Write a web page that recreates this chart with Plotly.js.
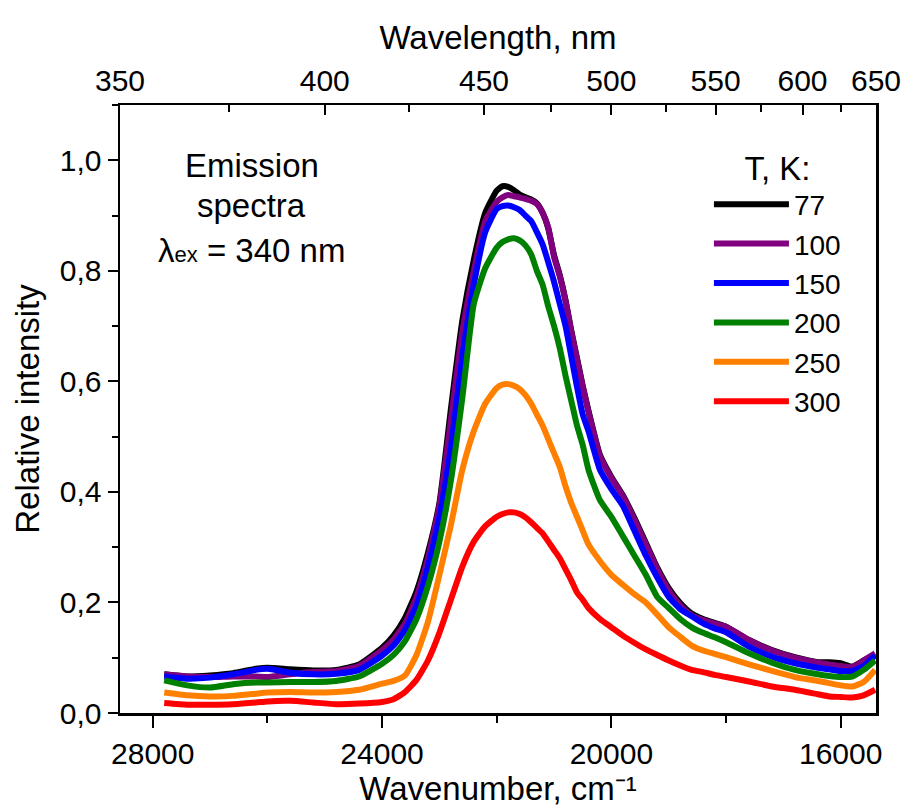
<!DOCTYPE html>
<html>
<head>
<meta charset="utf-8">
<script src="https://cdn.plot.ly/plotly-3.0.1.min.js"></script>
<style>
  html, body { margin: 0; padding: 0; background: #fff; }
  #chart { width: 904px; height: 807px; }
</style>
</head>
<body>
<div id="chart"></div>
<script>
// Wavenumber grid, cm^-1
const wavenumber = [27800, 27400, 27000, 26600, 26200, 26000, 25600, 25200, 24800, 24400,
  24000, 23800, 23600, 23400, 23200, 23000, 22800, 22600, 22400, 22200,
  22000, 21900, 21800, 21700, 21600, 21500, 21400, 21300, 21200, 21100,
  21000, 20900, 20800, 20700, 20600, 20500, 20400, 20200, 20000, 19800,
  19600, 19400, 19200, 19000, 18800, 18600, 18400, 18200, 18000, 17600,
  17200, 16800, 16400, 16200, 16000, 15800, 15600, 15400];

const temps = ["77", "100", "150", "200", "250", "300"];
const colors = ["#000000", "#800080", "#0000FF", "#008000", "#FF8000", "#FF0000"];

const I77 = [0.070, 0.066, 0.068, 0.072, 0.080, 0.082, 0.079, 0.077, 0.078, 0.088,
  0.118, 0.140, 0.172, 0.220, 0.290, 0.380, 0.550, 0.710, 0.820, 0.905,
  0.945, 0.953, 0.952, 0.946, 0.938, 0.933, 0.929, 0.922, 0.905, 0.876,
  0.828, 0.792, 0.747, 0.692, 0.642, 0.592, 0.547, 0.467, 0.427, 0.394,
  0.353, 0.308, 0.263, 0.226, 0.199, 0.180, 0.170, 0.163, 0.156, 0.132,
  0.114, 0.101, 0.092, 0.092, 0.090, 0.084, 0.095, 0.106];

const I100 = [0.070, 0.066, 0.065, 0.066, 0.066, 0.065, 0.070, 0.074, 0.076, 0.085,
  0.114, 0.133, 0.162, 0.210, 0.280, 0.375, 0.530, 0.690, 0.800, 0.890,
  0.925, 0.933, 0.937, 0.935, 0.933, 0.930, 0.927, 0.921, 0.905, 0.878,
  0.825, 0.790, 0.745, 0.690, 0.640, 0.590, 0.545, 0.465, 0.425, 0.392,
  0.350, 0.305, 0.260, 0.222, 0.195, 0.177, 0.168, 0.162, 0.156, 0.132,
  0.113, 0.100, 0.091, 0.088, 0.085, 0.083, 0.095, 0.108];

const I150 = [0.066, 0.062, 0.064, 0.070, 0.078, 0.080, 0.073, 0.070, 0.071, 0.078,
  0.104, 0.122, 0.150, 0.195, 0.265, 0.355, 0.480, 0.645, 0.775, 0.870,
  0.912, 0.917, 0.918, 0.915, 0.910, 0.900, 0.890, 0.870, 0.848, 0.815,
  0.780, 0.740, 0.700, 0.645, 0.590, 0.540, 0.510, 0.440, 0.405, 0.375,
  0.330, 0.285, 0.245, 0.210, 0.188, 0.175, 0.162, 0.153, 0.146, 0.120,
  0.102, 0.090, 0.082, 0.079, 0.076, 0.076, 0.085, 0.104];

const I200 = [0.059, 0.050, 0.046, 0.052, 0.055, 0.055, 0.056, 0.056, 0.058, 0.066,
  0.089, 0.105, 0.130, 0.170, 0.230, 0.310, 0.420, 0.570, 0.740, 0.805,
  0.842, 0.852, 0.857, 0.859, 0.855, 0.846, 0.830, 0.800, 0.775, 0.735,
  0.700, 0.660, 0.610, 0.565, 0.520, 0.485, 0.440, 0.385, 0.355, 0.320,
  0.285, 0.250, 0.210, 0.190, 0.170, 0.155, 0.145, 0.137, 0.128, 0.108,
  0.091, 0.078, 0.070, 0.067, 0.065, 0.066, 0.078, 0.095];

const I250 = [0.037, 0.032, 0.030, 0.031, 0.035, 0.037, 0.038, 0.037, 0.038, 0.042,
  0.053, 0.058, 0.068, 0.105, 0.165, 0.250, 0.340, 0.440, 0.510, 0.560,
  0.588, 0.594, 0.595, 0.592, 0.586, 0.575, 0.560, 0.540, 0.520, 0.495,
  0.470, 0.445, 0.410, 0.380, 0.355, 0.330, 0.305, 0.275, 0.250, 0.232,
  0.215, 0.200, 0.178, 0.155, 0.138, 0.122, 0.113, 0.107, 0.101, 0.088,
  0.076, 0.065, 0.058, 0.054, 0.050, 0.048, 0.056, 0.078];

const I300 = [0.018, 0.015, 0.015, 0.016, 0.019, 0.021, 0.022, 0.019, 0.016, 0.017,
  0.020, 0.025, 0.038, 0.060, 0.095, 0.145, 0.205, 0.265, 0.310, 0.338,
  0.355, 0.360, 0.363, 0.363, 0.360, 0.354, 0.345, 0.335, 0.325, 0.310,
  0.295, 0.280, 0.260, 0.240, 0.218, 0.205, 0.190, 0.170, 0.155, 0.140,
  0.127, 0.115, 0.105, 0.095, 0.086, 0.078, 0.074, 0.069, 0.065, 0.057,
  0.048, 0.042, 0.034, 0.030, 0.029, 0.028, 0.032, 0.042];

const series = [I77, I100, I150, I200, I250, I300];

// Axis ticks
const wnTickStep = 4000;
const wnMinorStep = 2000;
const wlMajor = [350, 400, 450, 500, 550, 600, 650];
const wlMinor = [375, 425, 475, 525, 575, 625];
const wlRange = [350, 650];

const FONT = "Arial, 'Liberation Sans', sans-serif";
const xRange = [1e7 / wlRange[0], 1e7 / wlRange[1]];

const traces = series.map((ys, i) => ({
  type: "scatter",
  mode: "lines",
  x: wavenumber,
  y: ys,
  name: temps[i],
  line: { color: colors[i], width: 6, shape: "spline", smoothing: 0.5 },
  xaxis: "x",
  yaxis: "y"
}));
// helper traces so the top (wavelength) axes are drawn
["x2", "x3"].forEach(ax => traces.push({
  type: "scatter", mode: "lines", x: [xRange[0]], y: [null],
  xaxis: ax, yaxis: "y", showlegend: false, hoverinfo: "skip"
}));

const layout = {
  width: 904, height: 807,
  margin: { l: 120, r: 28, t: 105, b: 94 },
  paper_bgcolor: "#fff", plot_bgcolor: "#fff",
  font: { family: FONT, size: 30, color: "#000" },
  separators: ", ",
  showlegend: true,
  xaxis: {
    range: xRange,
    tickmode: "linear", tick0: 0, dtick: wnTickStep, tickformat: "d",
    ticks: "outside", ticklen: 12, tickwidth: 2, tickcolor: "#000",
    minor: { tickmode: "linear", tick0: 0, dtick: wnMinorStep, ticks: "outside", ticklen: 7, tickwidth: 2, tickcolor: "#000" },
    showline: true, linewidth: 2.5, linecolor: "#000", mirror: false,
    showgrid: false, zeroline: false,
    tickfont: { size: 30 },
    title: { text: "Wavenumber, cm⁻¹", font: { size: 33 }, standoff: 13 }
  },
  xaxis2: {
    overlaying: "x", side: "top", anchor: "y",
    range: xRange,
    tickmode: "array",
    tickvals: wlMajor.map(l => 1e7 / l),
    ticktext: wlMajor.map(String),
    ticks: "inside", ticklen: 10, tickwidth: 2, tickcolor: "#000",
    showline: true, linewidth: 2.5, linecolor: "#000",
    showgrid: false, zeroline: false,
    tickfont: { size: 30 },
    title: { text: "Wavelength, nm", font: { size: 33 }, standoff: 4 }
  },
  xaxis3: {
    overlaying: "x", side: "top", anchor: "y",
    range: xRange,
    tickmode: "array",
    tickvals: wlMinor.map(l => 1e7 / l),
    showticklabels: false,
    ticks: "inside", ticklen: 7, tickwidth: 2, tickcolor: "#000",
    showline: false, showgrid: false, zeroline: false
  },
  yaxis: {
    range: [0, 1.1],
    tickmode: "linear", tick0: 0, dtick: 0.2, tickformat: ".1f",
    ticks: "outside", ticklen: 10, tickwidth: 2, tickcolor: "#000",
    minor: { dtick: 0.1, ticks: "outside", ticklen: 6, tickwidth: 2, tickcolor: "#000" },
    showline: true, linewidth: 2.5, linecolor: "#000", mirror: true,
    showgrid: false, zeroline: false,
    tickfont: { size: 30 },
    title: { text: "Relative intensity", font: { size: 33 }, standoff: 10 }
  },
  legend: {
    x: 0.779, xanchor: "left", y: 0.948, yanchor: "top",
    bgcolor: "rgba(0,0,0,0)", borderwidth: 0,
    font: { size: 28 },
    itemwidth: 75,
    title: { text: "T, K:", side: "top center", font: { size: 33 } },
    tracegroupgap: 0
  },
  annotations: [
    { xref: "paper", yref: "paper", x: 0.1746, y: 0.8997, xanchor: "center", yanchor: "middle",
      text: "Emission", showarrow: false, font: { size: 33 } },
    { xref: "paper", yref: "paper", x: 0.1746, y: 0.8355, xanchor: "center", yanchor: "middle",
      text: "spectra", showarrow: false, font: { size: 33 } },
    { xref: "paper", yref: "paper", x: 0.1746, y: 0.7599, xanchor: "center", yanchor: "middle",
      text: "λ<span style=\"font-size:22px\">ex</span> = 340 nm", showarrow: false, font: { size: 33 } }
  ]
};

Plotly.newPlot("chart", traces, layout, { staticPlot: true, displayModeBar: false });
</script>
</body>
</html>
